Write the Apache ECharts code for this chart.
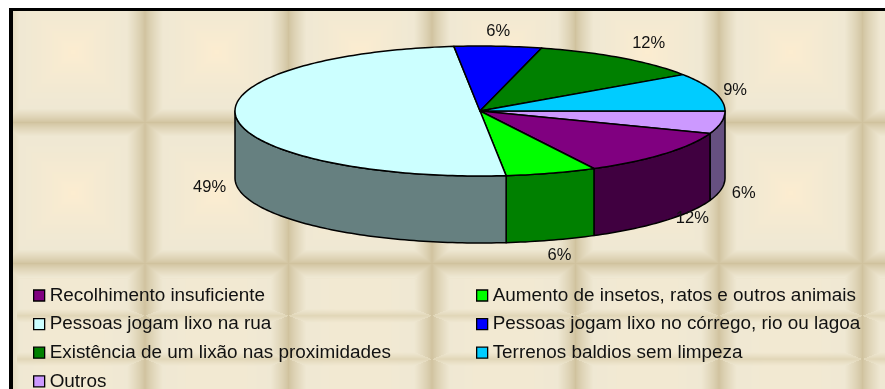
<!DOCTYPE html>
<html><head><meta charset="utf-8">
<style>html,body{margin:0;padding:0;background:#fff}#c{width:885px;height:389px}</style>
<script src="https://cdn.jsdelivr.net/npm/echarts@6/dist/echarts.min.js"></script>
</head><body><div id="c"></div>
<script>
// Data, clockwise from the 3 o'clock position
var categories = ['Outros','Recolhimento insuficiente','Aumento de insetos, ratos e outros animais','Pessoas jogam lixo na rua','Pessoas jogam lixo no córrego, rio ou lagoa','Existência de um lixão nas proximidades','Terrenos baldios sem limpeza'];
var values = [5.6, 11.7, 6.0, 50.0, 5.75, 11.5, 9.45];   // slice shares as drawn
var percentLabels = [6, 12, 6, 49, 6, 12, 9];            // printed percentages
var topColors = ['#cc99ff','#800080','#00ff00','#ccffff','#0000ff','#008000','#00ccff'];
var sideColors = ['#665080','#400040','#008000','#668080','#000080','#004000','#006680'];
var legendLeft = ['Recolhimento insuficiente','Pessoas jogam lixo na rua','Existência de um lixão nas proximidades','Outros'];
var legendRight = ['Aumento de insetos, ratos e outros animais','Pessoas jogam lixo no córrego, rio ou lagoa','Terrenos baldios sem limpeza'];
// small label adjustments, [dx, dy]
var labelNudge = [[-5,1],[7,-13],[0,0],[1,1],[-2,1],[11,-1],[-6,3]];

var FONT = '"Liberation Sans", Arial, sans-serif';
var CX = 480, CY = 111, RX = 245, RY = 65, DEPTH = 67;
var total = values.reduce(function(a,b){return a+b;},0);
var starts = [], acc = 0;
values.forEach(function(v){ starts.push(acc/total*Math.PI*2); acc += v; });

function rim(t, d){ return [CX + RX*Math.cos(t), CY + RY*Math.sin(t) + (d||0)]; }
function arcPts(a, b, d){
  var n = Math.max(2, Math.ceil((b-a)/0.02)), out = [];
  for (var i=0;i<=n;i++) out.push(rim(a+(b-a)*i/n, d));
  return out;
}

function makeRender(i){
  return function(){
    var a = starts[i], b = a + values[i]/total*Math.PI*2, kids = [];
    var line = {stroke:'#000', lineWidth:1.5, lineJoin:'round'};
    var wa = a, wb = Math.min(b, Math.PI);
    if (wb > wa) {
      var wall = arcPts(wa, wb, 0).concat(arcPts(wa, wb, DEPTH).reverse());
      kids.push({type:'polygon', z2:1, shape:{points:wall},
        style:Object.assign({fill:sideColors[i]}, line)});
    }
    kids.push({type:'polygon', z2:2, shape:{points:[[CX,CY]].concat(arcPts(a,b,0))},
      style:Object.assign({fill:topColors[i]}, line)});
    var m = (a+b)/2, p = rim(m, Math.sin(m)>0 ? DEPTH : 0), n = labelNudge[i];
    kids.push({type:'text', z2:3, style:{
      text: percentLabels[i] + '%',
      x: p[0] + 28*Math.cos(m) + n[0], y: p[1] + 16*Math.sin(m) + n[1],
      fill:'#111', font:'16.5px '+FONT, align:'center', verticalAlign:'middle'}});
    return {type:'group', children:kids};
  };
}

// Tiled backdrop
function tileCanvas(){
  var W=885,H=389,c=document.createElement('canvas');c.width=W;c.height=H;
  var g=c.getContext('2d'),im=g.createImageData(W,H),d=im.data;
  var groove=[208,194,158], soft=[224,213,182], flat=[239,232,211], glow=[253,237,208];
  function mix(a,b,t){return [a[0]+(b[0]-a[0])*t,a[1]+(b[1]-a[1])*t,a[2]+(b[2]-a[2])*t];}
  function shade(x,y,tw,th,ox,oy,fx,fy,legend){
    var u=((x-ox)%tw+tw)%tw, v=((y-oy)%th+th)%th;
    var dx=Math.min(u,tw-u), dy=Math.min(v,th-v);
    var ex=dx/fx, ey=dy/fy, e=Math.min(ex,ey);
    var cx=Math.abs(u-tw/2)/(tw/2), cy=legend?0.35:Math.abs(v-th/2)/(th/2);
    var k=Math.max(0,1-Math.max(cx,cy)/0.85);
    var base=mix(flat,glow,Math.pow(k,1.5)*(legend?.5:.95));
    if(e>=1) return base;
    return mix((legend&&ey<ex)?soft:groove,base,Math.pow(e,0.8));
  }
  for(var y=0;y<H;y++)for(var x=0;x<W;x++){
    var col;
    if(y>=278 && x>=17) col=shade(x,y,143.5,43.3,1,272,18,7,true);
    else col=shade(x,y,143.5,141,1,-19,18,14,false);
    var o=(y*W+x)*4;d[o]=col[0];d[o+1]=col[1];d[o+2]=col[2];d[o+3]=255;
  }
  g.putImageData(im,0,0);
  g.fillStyle='#fff';g.fillRect(0,0,W,8);g.fillRect(0,0,9,H);
  return c;
}

var series = categories.map(function(name,i){
  return {type:'custom', name:name, coordinateSystem:'none', silent:true, animation:false,
    itemStyle:{color:topColors[i]}, data:[[values[i]]], renderItem:makeRender(i), clip:false};
});

function legendOpt(names,left){
  return {data:names, orient:'vertical', left:left, top:286, height:140, padding:0, itemGap:9.6,
    itemWidth:11, itemHeight:11, icon:'rect', selectedMode:false,
    itemStyle:{borderColor:'#000',borderWidth:1.3},
    textStyle:{fontFamily:FONT,fontSize:18.9,lineHeight:16,color:'#111'}};
}

var chart = echarts.init(document.getElementById('c'),null,{renderer:'canvas'});
chart.setOption({
  animation:false,
  graphic:[
    {type:'image', z:-10, left:0, top:0, silent:true, style:{image:tileCanvas(), x:0, y:0, width:885, height:389}},
    {type:'rect', z:-9, silent:true, shape:{x:9,y:8,width:876,height:3}, style:{fill:'#000'}},
    {type:'rect', z:-9, silent:true, shape:{x:9,y:8,width:4,height:381}, style:{fill:'#000'}}
  ],
  legend:[legendOpt(legendLeft,33), legendOpt(legendRight,476)],
  series:series
});
</script></body></html>
